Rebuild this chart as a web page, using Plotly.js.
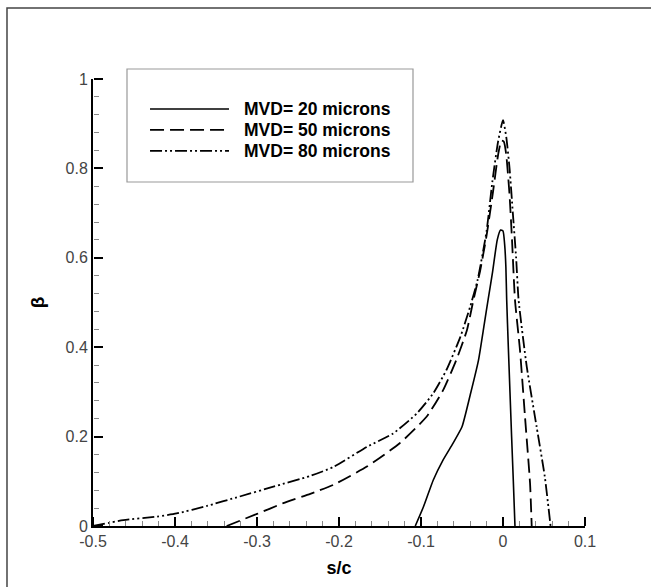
<!DOCTYPE html>
<html>
<head>
<meta charset="utf-8">
<script src="https://cdn.plot.ly/plotly-3.0.1.min.js"></script>
<style>html,body{margin:0;padding:0;background:#fff;}#chart{width:651px;height:587px;}</style>
</head>
<body>
<div id="chart"></div>
<script>
// ---- data ----
const seriesNames = ["MVD= 20 microns", "MVD= 50 microns", "MVD= 80 microns"];

const x20 = [-0.107, -0.097, -0.085, -0.073, -0.061, -0.050, -0.040, -0.030, -0.023, -0.018, -0.013, -0.007, -0.003, 0.000, 0.002, 0.0035, 0.0045, 0.0065, 0.0085, 0.0105, 0.0126, 0.0146];
const y20 = [0, 0.043, 0.103, 0.148, 0.185, 0.222, 0.293, 0.370, 0.450, 0.508, 0.565, 0.640, 0.662, 0.660, 0.630, 0.580, 0.506, 0.400, 0.300, 0.200, 0.100, 0];

const x50 = [-0.337, -0.300, -0.268, -0.235, -0.207, -0.166, -0.126, -0.093, -0.073, -0.057, -0.044, -0.036, -0.028, -0.020, -0.012, -0.006, -0.002, 0.001, 0.004, 0.008, 0.011, 0.0146, 0.0207, 0.0268, 0.033, 0.035];
const y50 = [0, 0.027, 0.051, 0.072, 0.092, 0.133, 0.185, 0.245, 0.304, 0.371, 0.438, 0.506, 0.570, 0.650, 0.750, 0.830, 0.862, 0.860, 0.830, 0.740, 0.640, 0.506, 0.394, 0.245, 0.095, 0];

const x80 = [-0.500, -0.463, -0.422, -0.398, -0.361, -0.321, -0.280, -0.235, -0.207, -0.166, -0.134, -0.105, -0.085, -0.069, -0.052, -0.040, -0.031, -0.020, -0.013, -0.006, 0.000, 0.004, 0.008, 0.012, 0.016, 0.019, 0.029, 0.041, 0.051, 0.058];
const y80 = [0, 0.013, 0.021, 0.028, 0.045, 0.066, 0.088, 0.112, 0.132, 0.177, 0.207, 0.252, 0.297, 0.349, 0.423, 0.491, 0.550, 0.660, 0.770, 0.860, 0.908, 0.870, 0.800, 0.700, 0.600, 0.506, 0.356, 0.222, 0.110, 0];

const xTickVals = [-0.5, -0.4, -0.3, -0.2, -0.1, 0, 0.1];
const xTickLabels = ["-0.5", "-0.4", "-0.3", "-0.2", "-0.1", "0", "0.1"];
const yTickVals = [0, 0.2, 0.4, 0.6, 0.8, 1];
const yTickLabels = ["0", "0.2", "0.4", "0.6", "0.8", "1"];
const xRange = [-0.5, 0.1];
const yRange = [0, 1];
const xMinorStep = 0.02;
const yMinorStep = 0.04;

// ---- styles ----
const dashes = ["solid", "14px,6px", "12px,3px,2px,3px,2px,3px"];
const widths = [1.6, 1.8, 1.8];
const FONT = "Liberation Sans, Arial, Helvetica, sans-serif";

const xs = [x20, x50, x80];
const ys = [y20, y50, y80];

const traces = xs.map((xv, i) => ({
  x: xv, y: ys[i], name: seriesNames[i], type: "scatter", mode: "lines",
  line: {color: "#000", width: widths[i], dash: dashes[i], shape: "spline", smoothing: 0.5},
  showlegend: false, hoverinfo: "skip"
}));
// empty helper traces so the tick overlay axes are drawn
traces.push({x: [], y: [], xaxis: "x2", yaxis: "y2", type: "scatter", mode: "lines", showlegend: false, hoverinfo: "skip"});
traces.push({x: [], y: [], xaxis: "x3", yaxis: "y3", type: "scatter", mode: "lines", showlegend: false, hoverinfo: "skip"});

// manual legend (box + sample lines + labels)
const legX0 = 0.0691, legX1 = 0.6504, legY0 = 0.7696, legY1 = 1.0224;
const rowY = [0.933, 0.886, 0.839];
const shapes = [
  {type: "rect", xref: "paper", yref: "paper", x0: -0.1748, x1: 1.4, y0: -0.4, y1: 1.1588,
   line: {color: "#444", width: 1.5}, fillcolor: "rgba(0,0,0,0)", layer: "below"},
  {type: "rect", xref: "paper", yref: "paper", x0: legX0, x1: legX1, y0: legY0, y1: legY1,
   line: {color: "#999", width: 1.2}, fillcolor: "#fff"}
];
const annotations = [];
seriesNames.forEach((nm, i) => {
  shapes.push({type: "line", xref: "paper", yref: "paper", x0: 0.1159, x1: 0.2764, y0: rowY[i], y1: rowY[i],
    line: {color: "#000", width: widths[i], dash: dashes[i]}});
  annotations.push({xref: "paper", yref: "paper", x: 0.303, y: rowY[i], xanchor: "left", yanchor: "middle",
    text: "<b>" + nm + "</b>", showarrow: false, font: {family: FONT, size: 17.5, color: "#000"}});
});

// tick-only overlay axes: placed on the opposite side at the plot edge so "outside" ticks point into the plot
const tickOnly = {showticklabels: false, showline: false, showgrid: false, zeroline: false, ticks: "outside"};
const tickFont = {family: FONT, size: 16, color: "#444"};
const layout = {
  width: 651, height: 587,
  margin: {l: 93, r: 66, t: 79, b: 61},
  paper_bgcolor: "#fff", plot_bgcolor: "#fff",
  font: {family: FONT},
  showlegend: false,
  xaxis2: Object.assign({}, tickOnly, {overlaying: "x", side: "top", anchor: "free", position: 0, range: xRange,
    tickmode: "linear", tick0: xRange[0], dtick: xMinorStep, ticklen: 5, tickwidth: 1, tickcolor: "#888"}),
  yaxis2: Object.assign({}, tickOnly, {overlaying: "y", side: "right", anchor: "free", position: 0, range: yRange,
    tickmode: "linear", tick0: yRange[0], dtick: yMinorStep, ticklen: 5, tickwidth: 1, tickcolor: "#888"}),
  xaxis3: Object.assign({}, tickOnly, {overlaying: "x", side: "top", anchor: "free", position: 0, range: xRange,
    tickmode: "array", tickvals: xTickVals, ticklen: 9, tickwidth: 2, tickcolor: "#000"}),
  yaxis3: Object.assign({}, tickOnly, {overlaying: "y", side: "right", anchor: "free", position: 0, range: yRange,
    tickmode: "array", tickvals: yTickVals, ticklen: 9, tickwidth: 2, tickcolor: "#000"}),
  xaxis: {
    range: xRange, tickmode: "array", tickvals: xTickVals, ticktext: xTickLabels,
    ticks: "", showline: true, linecolor: "#000", linewidth: 2,
    showgrid: false, zeroline: false,
    tickfont: tickFont,
    title: {text: "<b>s/c</b>", font: {family: FONT, size: 18, color: "#000"}, standoff: 12}
  },
  yaxis: {
    range: yRange, tickmode: "array", tickvals: yTickVals, ticktext: yTickLabels,
    ticks: "", showline: true, linecolor: "#000", linewidth: 2,
    showgrid: false, zeroline: false,
    tickfont: tickFont,
    title: {text: "<b>β</b>", font: {family: FONT, size: 19, color: "#000"}, standoff: 16}
  },
  shapes: shapes,
  annotations: annotations
};

Plotly.newPlot("chart", traces, layout, {staticPlot: true, displayModeBar: false});
</script>
</body>
</html>
